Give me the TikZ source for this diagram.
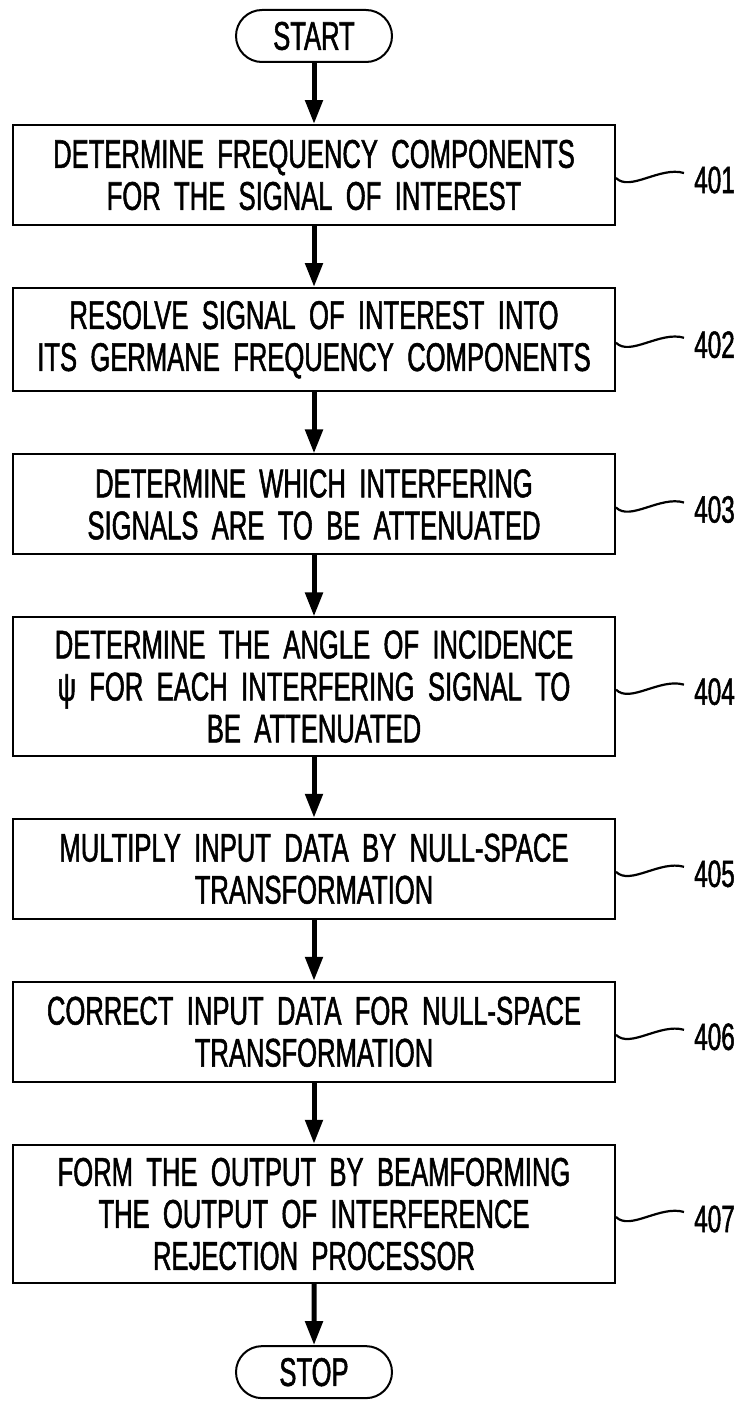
\documentclass[tikz,border=0pt]{standalone}
\usepackage{fontspec}
\setmainfont{Liberation Sans}[FakeStretch=0.64,WordSpace=2.0,FakeBold=1.3]
\usetikzlibrary{positioning,
	arrows.meta,
	shapes.misc}
\tikzstyle{stepbox}=[draw, line width=2pt, minimum width=602pt, minimum height=100pt,
		text width=590pt, align=center, inner xsep=6pt, inner ysep=13pt,
		font=\fontsize{40}{42}\selectfont]
\tikzstyle{term}=[draw, line width=2pt, rounded rectangle, minimum width=156pt,
		minimum height=52pt, inner sep=0, font=\fontsize{40}{42}\selectfont]
\tikzstyle{flow}=[line width=5pt, -{Triangle[length=24pt, width=17pt]}]
\tikzstyle{squig}=[line width=2.2pt]
\tikzstyle{lbl}=[inner sep=0, font=\fontsize{38}{40}\selectfont]

\begin{document}
\begin{tikzpicture}[node distance=61pt]
        \useasboundingbox (0,0) rectangle (748pt,-1405pt);
        \node[term] (start) at (314pt,-36pt) {START};
        \node[stepbox, below=of start] (b1) {DETERMINE FREQUENCY COMPONENTS\\ FOR THE SIGNAL OF INTEREST};
        \node[stepbox, below=of b1] (b2) {RESOLVE SIGNAL OF INTEREST INTO\\ ITS GERMANE FREQUENCY COMPONENTS};
        \node[stepbox, below=of b2] (b3) {DETERMINE WHICH INTERFERING\\ SIGNALS ARE TO BE ATTENUATED};
        \node[stepbox, below=of b3] (b4) {DETERMINE THE ANGLE OF INCIDENCE\\ ψ FOR EACH INTERFERING SIGNAL TO\\ BE ATTENUATED};
        \node[stepbox, below=of b4] (b5) {MULTIPLY INPUT DATA BY NULL-SPACE\\ TRANSFORMATION};
        \node[stepbox, below=of b5] (b6) {CORRECT INPUT DATA FOR NULL-SPACE\\ TRANSFORMATION};
        \node[stepbox, below=of b6] (b7) {FORM THE OUTPUT BY BEAMFORMING\\ THE OUTPUT OF INTERFERENCE\\ REJECTION PROCESSOR};
        \node[term, below=of b7] (stop) {STOP};
        % flow arrows
        \foreach \a/\b in {start/b1, b1/b2, b2/b3, b3/b4, b4/b5, b5/b6, b6/b7, b7/stop}
            \draw[flow] (\a) -- (\b);
        % reference numerals
        \foreach \i in {1,...,7} {
            \node[lbl, right=78pt of b\i.east, yshift=-5pt] (l\i) {40\i};
            \draw[squig] ([yshift=-3pt]b\i.east) .. controls +(14pt,-14pt) and +(-24pt,7pt) .. ([xshift=-10pt,yshift=7pt]l\i.west);
        }
    \end{tikzpicture}
\end{document}
